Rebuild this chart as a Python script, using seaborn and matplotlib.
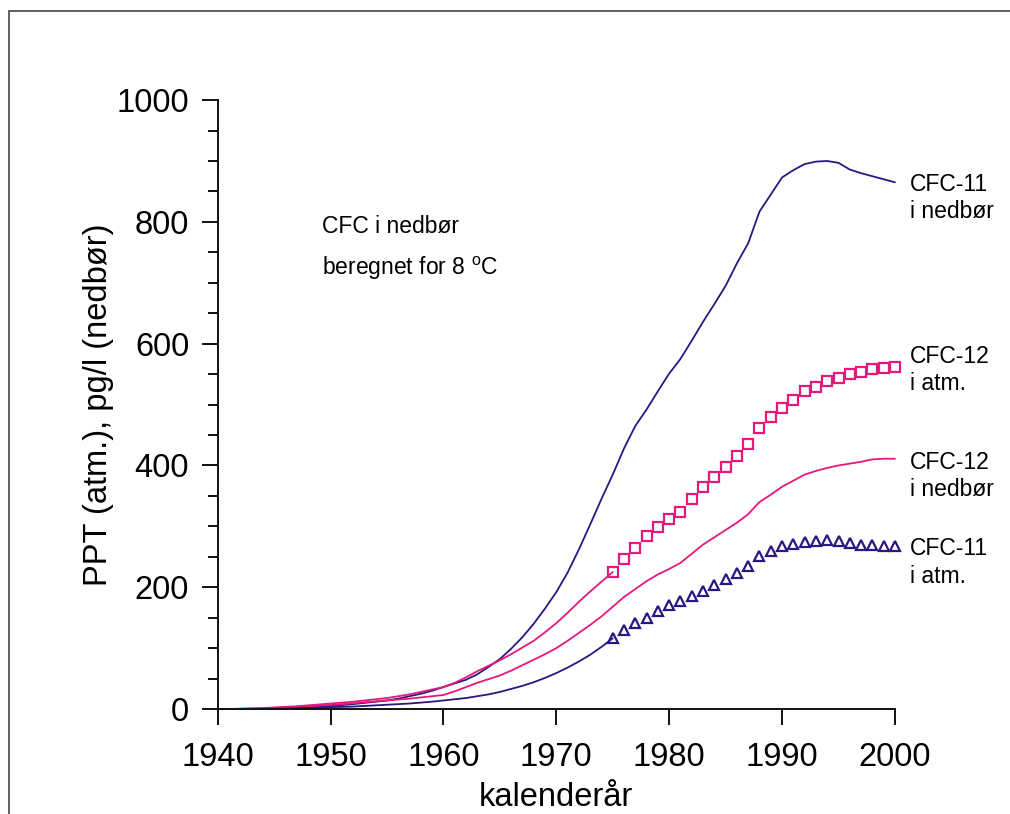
import numpy as np
import pandas as pd
import matplotlib
matplotlib.use("Agg")
import matplotlib.pyplot as plt
from matplotlib.lines import Line2D
from matplotlib.ticker import MultipleLocator
import seaborn as sns

# ---------------- data ----------------
years_early = list(range(1940, 1976))          # 1940..1975
years_all = list(range(1940, 2001))            # 1940..2000
years_late = list(range(1975, 2001))           # 1975..2000

cfc11_nedbor = [0, 0, 0, 0.3, 0.5, 1, 1.5, 2, 3, 4,
                5, 6.5, 8, 10, 12, 14, 17, 21, 25, 30,
                36, 42, 48, 57, 69, 82, 99, 118, 140, 165,
                192, 224, 262, 303, 345, 385, 428, 465, 492, 522,
                551, 575, 605, 636, 665, 695, 732, 765, 817, 845,
                873, 885, 895, 899, 900, 897, 886, 880, 875, 870,
                865]

cfc12_nedbor = [0, 0, 0.3, 0.7, 1, 1.8, 2.5, 3.5, 4.5, 5.5,
                7, 8, 9.5, 11, 12.5, 14, 15.5, 17, 19, 21,
                23, 29, 36, 43, 49, 55, 63, 72, 81, 90,
                100, 112, 125, 138, 152, 168, 184, 197, 210, 221,
                230, 240, 255, 270, 282, 294, 306, 320, 340, 352,
                365, 375, 385, 391, 396, 400, 403, 406, 410, 411,
                411]

cfc12_atm_early = [0, 0, 0.5, 1, 1.5, 2.5, 3.5, 4.5, 6, 7.5,
                   9, 10.5, 12, 14, 16, 18, 21, 24, 28, 32,
                   36, 43, 52, 62, 71, 80, 90, 101, 112, 126,
                   141, 158, 176, 193, 209, 225]

cfc11_atm_early = [0, 0, 0, 0, 0.2, 0.4, 0.7, 1, 1.5, 2,
                   3, 3.5, 4, 5, 6, 7, 8, 9, 10.5, 12,
                   14, 16, 18, 21, 24, 28, 33, 38, 44, 51,
                   59, 68, 78, 89, 102, 116]

cfc12_atm = [225, 246, 264, 284, 299, 312, 324, 345, 364, 381,
             398, 416, 436, 462, 479, 495, 507, 522, 529, 538,
             544, 550, 554, 559, 560, 561]

cfc11_atm = [116, 130, 142, 150, 161, 170, 178, 186, 194, 203,
             213, 224, 235, 251, 260, 268, 271, 275, 276, 277,
             276, 272, 270, 269, 268, 267]

x_ticks = [1940, 1950, 1960, 1970, 1980, 1990, 2000]
y_ticks = [0, 200, 400, 600, 800, 1000]

labels_right = [("CFC-11\ni nedbør", 839),
                ("CFC-12\ni atm.", 557),
                ("CFC-12\ni nedbør", 383),
                ("CFC-11\ni atm.", 241)]

# ---------------- style ----------------
sns.set_style("ticks")
plt.rcParams['font.family'] = ['Liberation Sans', 'DejaVu Sans']
plt.rcParams['mathtext.fontset'] = 'custom'
plt.rcParams['mathtext.rm'] = 'Liberation Sans'
plt.rcParams['mathtext.it'] = 'Liberation Sans:italic'
plt.rcParams['text.color'] = 'black'
plt.rcParams['axes.labelcolor'] = 'black'
plt.rcParams['xtick.color'] = 'black'
plt.rcParams['ytick.color'] = 'black'
plt.rcParams['xtick.labelcolor'] = 'black'
plt.rcParams['ytick.labelcolor'] = 'black'

BLUE = '#2c1682'
PINK = '#e5197b'

fig = plt.figure(figsize=(10.1, 8.14), dpi=100)
ax = fig.add_axes([0.2155, 0.129, 0.6706, 0.748])

df_all = pd.DataFrame({'year': years_all, 'c11n': cfc11_nedbor, 'c12n': cfc12_nedbor})
df_early = pd.DataFrame({'year': years_early, 'c12a': cfc12_atm_early, 'c11a': cfc11_atm_early})
df_late = pd.DataFrame({'year': years_late, 'c12a': cfc12_atm, 'c11a': cfc11_atm})

sns.lineplot(data=df_all, x='year', y='c11n', color=BLUE, lw=1.3, ax=ax, clip_on=False)
sns.lineplot(data=df_all, x='year', y='c12n', color=PINK, lw=1.3, ax=ax, clip_on=False)
sns.lineplot(data=df_early, x='year', y='c12a', color=PINK, lw=1.3, ax=ax, clip_on=False)
sns.lineplot(data=df_early, x='year', y='c11a', color=BLUE, lw=1.3, ax=ax, clip_on=False)
sns.lineplot(data=df_late, x='year', y='c12a', color=PINK, linestyle='', marker='s',
             markersize=6.5, markerfacecolor='none', markeredgecolor=PINK, markeredgewidth=1.6,
             ax=ax, clip_on=False)
sns.lineplot(data=df_late, x='year', y='c11a', color=BLUE, linestyle='', marker='^',
             markersize=7.5, markerfacecolor='none', markeredgecolor=BLUE, markeredgewidth=1.6,
             ax=ax, clip_on=False)

ax.set_xlim(1940, 2000)
ax.set_ylim(0, 1000)
ax.set_xticks(x_ticks)
ax.set_yticks(y_ticks)
ax.yaxis.set_minor_locator(MultipleLocator(50))
ax.tick_params(axis='both', which='major', direction='out', length=11.5, width=1.4,
               labelsize=23.5, pad=9, color='#111111', labelcolor='black')
ax.tick_params(axis='y', which='minor', direction='out', length=7.5, width=1.4, color='#111111')
ax.tick_params(axis='x', pad=12)
for s in ['top', 'right']:
    ax.spines[s].set_visible(False)
for s in ['left', 'bottom']:
    ax.spines[s].set_linewidth(1.4)
    ax.spines[s].set_color('#111111')

ax.set_xlabel('kalenderår', fontsize=23.5, labelpad=7, color='black')
ax.set_ylabel('PPT (atm.), pg/l (nedbør)', fontsize=23.5, labelpad=2, color='black')

ax.text(1949.2, 793, 'CFC i nedbør', fontsize=16.5, va='center', ha='left', color='black')
ax.text(1949.2, 724, r'beregnet for 8 $^{\mathrm{o}}$C', fontsize=16.5, va='center',
        ha='left', color='black')

for txt, yv in labels_right:
    ax.text(2001.3, yv, txt, fontsize=16.5, va='center', ha='left', linespacing=1.25,
            clip_on=False, color='black')

# outer frame lines (top and left)
fig.add_artist(Line2D([0.0089, 1.0], [0.987, 0.987], transform=fig.transFigure,
                      color='#555555', lw=1.3))
fig.add_artist(Line2D([0.0089, 0.0089], [0.0, 0.987], transform=fig.transFigure,
                      color='#555555', lw=1.3))

fig.savefig('out.png', dpi=100)
